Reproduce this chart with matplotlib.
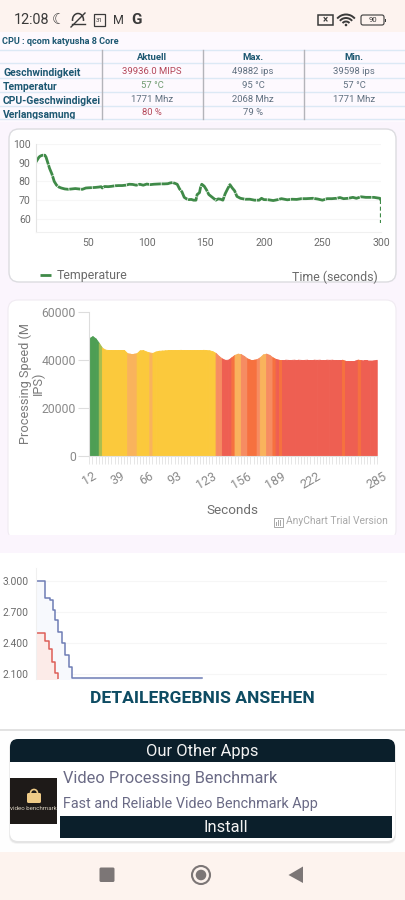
import matplotlib
matplotlib.use("Agg")
import matplotlib.pyplot as plt
from matplotlib.patches import FancyBboxPatch, Rectangle, Circle, Polygon, Arc
from matplotlib.transforms import Bbox

plt.rcParams['font.family'] = ['Roboto', 'DejaVu Sans']

# ---------- data ----------
table_columns = ["Aktuell", "Max.", "Min."]
table_rows = ["Geschwindigkeit", "Temperatur", "CPU-Geschwindigkei", "Verlangsamung"]
table_current = ["39936.0 MIPS", "57 °C", "1771 Mhz", "80 %"]
table_max = ["49882 ips", "95 °C", "2068 Mhz", "79 %"]
table_min = ["39598 ips", "57 °C", "1771 Mhz", ""]
current_colors = ["#B5485A", "#6E9A6E", "#607080", "#B5485A"]

temp_time = [5, 6, 7, 8, 9, 10, 11, 12, 13, 14, 15, 16, 17, 18, 19, 20, 21, 22, 23, 24, 25, 27, 30, 33, 36, 39, 42, 45,
             48, 50, 53, 56, 59, 61, 62, 64, 67, 70, 73, 76, 79, 82, 85, 88, 91, 94, 97, 100, 103, 106, 109, 112, 115,
             118, 120, 122, 124, 126, 128, 130, 132, 134, 136, 138, 140, 142, 143, 145, 146, 147, 149, 151, 153, 155,
             157, 159, 161, 163, 165, 167, 169, 171, 173, 175, 177, 180, 184, 188, 192, 196, 198, 200, 204, 208, 212,
             215, 220, 224, 228, 232, 236, 242, 246, 250, 254, 258, 262, 265, 268, 272, 276, 279, 283, 287, 291, 294,
             297, 299, 300, 300]
temp_vals = [90, 91, 92, 93, 93.5, 93.8, 94, 94, 94, 93, 91, 89, 87, 85.5, 84, 82, 80, 79, 78, 77.5, 77, 76.5, 76, 75.8,
             76, 76.2, 76, 75.8, 76.5, 76.6, 76.7, 76.8, 77, 77.2, 76.5, 77.3, 77.2, 77.4, 77.7, 77.8, 77.8, 78, 78.5,
             78.4, 78, 78.5, 78, 78.6, 78.3, 78.5, 78.6, 78.7, 78.7, 78.8, 79.2, 79.4, 79, 78.5, 76, 74.5, 71.5, 70.7,
             70.3, 70.4, 70, 70, 73, 74, 77, 78.5, 77.5, 75.5, 73, 72, 71, 70, 70.7, 70.5, 70, 73.5, 76, 78.3, 76.5, 75,
             72, 71, 70.5, 70.5, 70, 70, 71, 70.3, 70.2, 69.8, 70.3, 70.8, 70.2, 70.5, 70.4, 70.8, 70.8, 71, 70.6, 70,
             70.8, 70.8, 71, 71.4, 70.8, 71, 71.5, 71, 71.8, 71.5, 71.5, 71.5, 71.2, 71, 70, 58]

speed_time = list(range(12, 286, 3))
speed_vals = [49000, 49800, 48800, 47000, 45000, 44200, 44000, 44000, 44000, 44000, 44000, 44000, 42700, 42500, 42500,
              42700, 43900, 44000, 43400, 43000, 42800, 43400, 43700, 43800, 43900, 44000, 44000, 44000, 44000, 44100,
              44100, 44100, 44100, 44100, 44100, 44100, 44100, 44000, 43900, 43500, 42800, 41500, 40500, 39900, 40000,
              41000, 42000, 42500, 42300, 41500, 40500, 40000, 40000, 40200, 41000, 42200, 42500, 42000, 41000, 40300,
              40000, 40000, 40000, 39900, 39900, 40000, 40000, 39900, 39900, 40000, 40000, 40000, 39900, 40000, 40000,
              40000, 39900, 40000, 40000, 40000, 40000, 39600, 39600, 39600, 39600, 40000, 39800, 39700, 39700, 39600,
              39700, 39936]
# one colour code per interval: G green, L lime, Y yellow, P pale orange, S salmon, R red, O orange
speed_codes = ("GGGL" + "Y" * 8 + "PPP" + "YYYY" + "P" + "Y" * 20
               + "SSRRROPPSSOOOSPPSSOROR"
               + "R" * 18 + "O" + "RRRR" + "O" + "RRRRR")
code_colors = {"G": "#4E9E54", "L": "#A9BE4F", "Y": "#FBC93C", "P": "#F9B35C", "S": "#F68C62", "R": "#EE5F52",
               "O": "#F6713F"}
speed_labels = {12: "12", 39: "39", 66: "66", 93: "93", 123: "123", 156: "156", 189: "189", 222: "222", 285: "285"}

blue_x = [0, 9, 14, 17, 19, 22, 26, 29, 33, 36, 166]
blue_y = [3.0, 2.84, 2.82, 2.72, 2.62, 2.51, 2.40, 2.28, 2.17, 2.058, 2.058]
red_x = [0, 9, 13, 16, 19, 22]
red_y = [2.5, 2.42, 2.34, 2.22, 2.11, 2.05]

FIG_W, FIG_H = 405, 900
fig = plt.figure(figsize=(FIG_W / 100, FIG_H / 100), dpi=100, facecolor="#FBF5FD")


def ax_at(l, t, r, b, **kw):
    a = fig.add_axes([l / FIG_W, 1 - b / FIG_H, (r - l) / FIG_W, (b - t) / FIG_H], **kw)
    a.patch.set_alpha(0)
    return a


bg = ax_at(0, 0, FIG_W, FIG_H)
bg.set_xlim(0, FIG_W)
bg.set_ylim(FIG_H, 0)
bg.axis("off")


def rect(x0, y0, x1, y1, c, z=1, **kw):
    bg.add_patch(Rectangle((x0, y0), x1 - x0, y1 - y0, fc=c, ec="none", zorder=z, **kw))


def rrect(x0, y0, x1, y1, r, fc, ec="none", lw=1, z=1):
    bg.add_patch(FancyBboxPatch((x0 + r, y0 + r), x1 - x0 - 2 * r, y1 - y0 - 2 * r,
                                boxstyle=f"round,pad={r},rounding_size={r}", fc=fc, ec=ec, lw=lw, zorder=z))


# page regions
rect(0, 0, 405, 32, "#FDF3EF")
rect(0, 32, 405, 122, "#FDF9FE")
rect(0, 553, 405, 729, "#FFFFFF")
rect(0, 729, 405, 731, "#E2E2E2")
rect(0, 731, 405, 852, "#FEFEFE")
rect(0, 852, 405, 900, "#FDF3EE")

# status bar
dark = "#3A3A3A"
bg.text(14, 20, "12:08", fontsize=10.4, color=dark, va="center", ha="left")
bg.text(58.5, 19.5, "☾", fontsize=11, color=dark, va="center", ha="center", family="DejaVu Sans")
bg.add_patch(Arc((78, 20), 11, 13, theta1=170, theta2=370, color=dark, lw=1.1))
bg.plot([71, 85], [27, 13], color=dark, lw=1)
bg.plot([71.5, 84.5], [24, 24], color=dark, lw=1)
bg.add_patch(Rectangle((93.5, 14), 11.5, 12, fc="none", ec=dark, lw=0.9))
bg.text(99.3, 20.5, "31", fontsize=4.5, color=dark, va="center", ha="center")
bg.text(118.5, 20, "M", fontsize=9, color=dark, va="center", ha="center")
bg.text(136.5, 20, "G", fontsize=11, color=dark, va="center", ha="center", fontweight="bold")
bg.add_patch(Rectangle((318, 15), 15, 10, fc="none", ec=dark, lw=1.1))
bg.text(325.5, 20, "×", fontsize=7, color=dark, va="center", ha="center", fontweight="bold")
for d in (9, 16, 23):
    bg.add_patch(Arc((346, 26), d, d, theta1=220, theta2=320, color=dark, lw=1.4))
bg.add_patch(Circle((346, 25), 1.3, fc=dark, ec="none"))
rrect(361, 15, 384, 25, 2, "none", ec=dark, lw=0.8)
bg.add_patch(Rectangle((384.5, 18.5), 1.3, 3.5, fc=dark, ec="none"))
bg.text(372.5, 20, "90", fontsize=5.5, color=dark, va="center", ha="center")

# table
head = "#1D5872"
bg.text(2, 41, "CPU : qcom katyusha 8 Core", fontsize=6.6, color=head, va="center", ha="left", fontweight="bold")
for y in (50, 63, 78, 92, 106, 119):
    bg.plot([0, 405], [y, y], color="#DCE9F5", lw=1, zorder=2)
for x in (101.5, 202.5, 304):
    bg.plot([x, x], [50, 119], color="#B4B4BA", lw=1, zorder=2)
col_x = [152, 253, 354]
row_y = [71, 85, 99, 112.7]
row_label_y = [73, 87, 101, 115]
row_clip = [77.5, 91.5, 105.5, 118.5]
for cx, c in zip(col_x, table_columns):
    bg.text(cx, 57, c, fontsize=6.8, color=head, ha="center", va="center", fontweight="bold")
for i, lab in enumerate(table_rows):
    t = bg.text(3, row_label_y[i], lab, fontsize=7.5, color=head, ha="left", va="center", fontweight="bold", zorder=3)
    t.set_clip_box(Bbox([[0, FIG_H - row_clip[i]], [101, FIG_H - row_clip[i] + 18]]))
    t.set_clip_on(True)
    bg.text(col_x[0], row_y[i], table_current[i], fontsize=6.8, color=current_colors[i], ha="center", va="center")
    bg.text(col_x[1], row_y[i], table_max[i], fontsize=6.8, color="#607080", ha="center", va="center")
    bg.text(col_x[2], row_y[i], table_min[i], fontsize=6.8, color="#607080", ha="center", va="center")

# cards
rrect(9, 129, 396, 282, 10, "#FFFFFF", ec="#DCDCE0", lw=1)
rrect(8, 300, 396, 540, 10, "#FFFFFF", ec="#F0EBF2", lw=0.8)
rect(0, 535, 405, 553, "#FBF5FD", z=1.5)

gray = "#6B6B6B"

# ---------- temperature chart ----------
ax1 = ax_at(35.5, 144, 381, 232)
ax1.plot(temp_time[:-1], temp_vals[:-1], color="#3F8A48", lw=2.0, ls=(0, (4, 0.25)), label="Temperature")
ax1.plot(temp_time[-2:], temp_vals[-2:], color="#3F8A48", lw=1.6, ls=(0, (1.8, 1.2)))
ax1.set_xlim(5, 300)
ax1.set_ylim(53, 100)
ax1.set_yticks([60, 70, 80, 90, 100])
ax1.set_xticks([50, 100, 150, 200, 250, 300])
ax1.grid(axis="y", color="#F6F6F6", lw=0.8)
ax1.set_axisbelow(True)
for s in ("top", "right"):
    ax1.spines[s].set_visible(False)
ax1.spines["left"].set_color("#E4E4E4")
ax1.spines["bottom"].set_color("#F0F0F0")
ax1.tick_params(length=0, labelsize=7.6, labelcolor=gray, pad=4)
ax1.tick_params(axis="y", pad=3.5)
ax1.set_xlabel("Time (seconds)", fontsize=8.9, color=gray, ha="right")
ax1.xaxis.set_label_coords(0.99, -0.44, transform=ax1.transAxes)
leg = ax1.legend(loc="upper left", bbox_to_anchor=(-0.006, -0.35), frameon=False, fontsize=8.9, handlelength=0.9,
                 handletextpad=0.5, borderpad=0, labelcolor=gray)

# ---------- speed chart ----------
ax2 = ax_at(89.3, 311.7, 376.7, 455.7)
for i, code in enumerate(speed_codes):
    c = code_colors[code]
    ax2.fill_between(speed_time[i:i + 2], speed_vals[i:i + 2], 0, color=c, lw=0.7)
ax2.set_xlim(12, 285)
ax2.set_ylim(0, 60000)
ax2.set_yticks([0, 20000, 40000, 60000])
ax2.set_xticks(speed_time)
ax2.set_xticklabels([speed_labels.get(t, "") for t in speed_time], rotation=30, ha="center")
for s in ("top", "right"):
    ax2.spines[s].set_visible(False)
ax2.spines["left"].set_color("#DDDDDD")
ax2.spines["bottom"].set_color("#E2E2E2")
ax2.tick_params(axis="x", length=6, width=0.6, color="#E2E2E2", labelsize=9, labelcolor="#8A8A8A", pad=4)
ax2.tick_params(axis="y", length=8, width=0.8, color="#DDDDDD", labelsize=8.8, labelcolor="#8A8A8A", pad=1.5)
ax2.set_ylabel("Processing Speed (M\nIPS)", fontsize=9.2, color="#7A7A7A", linespacing=0.95, ha="center", va="center")
ax2.yaxis.set_label_coords(-0.2, 0.5, transform=ax2.transAxes)
ax2.set_xlabel("Seconds", fontsize=9.7, color="#6E6E6E", va="center")
ax2.xaxis.set_label_coords(0.497, -0.378, transform=ax2.transAxes)
bg.text(286, 521.5, "AnyChart Trial Version", fontsize=7.4, color="#A8A8A8", va="center", ha="left", zorder=3)
bg.add_patch(Rectangle((273.5, 518), 9, 8.5, fc="none", ec="#A8A8A8", lw=0.7, zorder=3))
bg.add_patch(Rectangle((275.5, 522), 1.4, 3.5, fc="#A8A8A8", ec="none", zorder=3))
bg.add_patch(Rectangle((277.8, 520), 1.4, 5.5, fc="#A8A8A8", ec="none", zorder=3))
bg.add_patch(Rectangle((280, 519.5), 1.4, 6, fc="#A8A8A8", ec="none", zorder=3))

# ---------- frequency chart ----------
ax3 = ax_at(35.7, 568, 386.7, 679.3)
ax3.fill_between(blue_x, blue_y, 2.0, step="post", color="#F7F9FD", lw=0)
ax3.fill_between(red_x, red_y, 2.0, step="post", color="#FCEBE8", lw=0)
ax3.step(blue_x, blue_y, where="post", color="#6E7DB5", lw=1.1)
ax3.step(red_x, red_y, where="post", color="#DD5F58", lw=1.1)
ax3.set_xlim(0, 351)
ax3.set_ylim(2.05, 3.125)
ax3.set_yticks([2.1, 2.4, 2.7, 3.0])
ax3.set_yticklabels(["2.100", "2.400", "2.700", "3.000"])
ax3.set_xticks([])
ax3.grid(axis="y", color="#F6F6F6", lw=0.8)
ax3.set_axisbelow(True)
for s in ("top", "right", "bottom"):
    ax3.spines[s].set_visible(False)
ax3.spines["left"].set_color("#F0F0F0")
ax3.tick_params(length=0, labelsize=7.4, labelcolor=gray, pad=5)

bg.text(202.5, 698.5, "DETAILERGEBNIS ANSEHEN", fontsize=12.6, color="#0E4C63", fontweight="bold", ha="center",
        va="center", zorder=3)

# ---------- other apps card ----------
for i, c in enumerate(("#F8F8F8", "#F0F0F0", "#E4E4E4")):
    rrect(10 - 1 + i * .3, 740 + i * .5, 395 + 1 - i * .3, 844 - i * .5, 8, c, z=1.6)
rrect(10, 739, 395, 841, 8, "#FFFFFF", z=1.7)
navy = "#0B1F2B"
rrect(10, 739, 395, 765, 8, navy, z=1.8)
rect(10, 750, 395, 762, navy, z=1.85)
rect(10, 762, 395, 766, "#FFFFFF", z=1.85)
bg.text(202.5, 751.5, "Our Other Apps", fontsize=11.9, color="#F2F2F2", ha="center", va="center", zorder=3)
rect(10, 778, 57, 824, "#1E1A18", z=2)
rrect(27, 793, 41, 803, 1.5, "#EFCB87", z=2.1)
bg.add_patch(Arc((34, 793), 7, 7, theta1=180, theta2=360, color="#EFCB87", lw=1.2, zorder=2.2))
bg.text(33.5, 808.5, "video benchmark", fontsize=4.4, color="#D8D0C0", ha="center", va="center", zorder=3)
bg.text(63, 779, "Video Processing Benchmark", fontsize=11.8, color="#6A6A85", ha="left", va="center", zorder=3)
bg.text(63, 804, "Fast and Reliable Video Benchmark App", fontsize=10.4, color="#6A6A85", ha="left", va="center",
        zorder=3)
rect(60, 815.5, 392, 837.5, navy, z=2)
bg.text(226, 827.3, "Install", fontsize=11.9, color="#F2F2F2", ha="center", va="center", zorder=3)

# nav bar
nav = "#7C7676"
rrect(99.5, 867.5, 114.5, 882, 1.5, nav, z=2)
bg.add_patch(Circle((201, 875), 9, fc="none", ec=nav, lw=1.5, zorder=2))
bg.add_patch(Circle((201, 875), 5.3, fc=nav, ec="none", zorder=2))
bg.add_patch(Polygon([[303, 866.5], [303, 883], [288.5, 875]], closed=True, fc=nav, ec="none", zorder=2))

fig.savefig("out.png", dpi=100, facecolor=fig.get_facecolor())
